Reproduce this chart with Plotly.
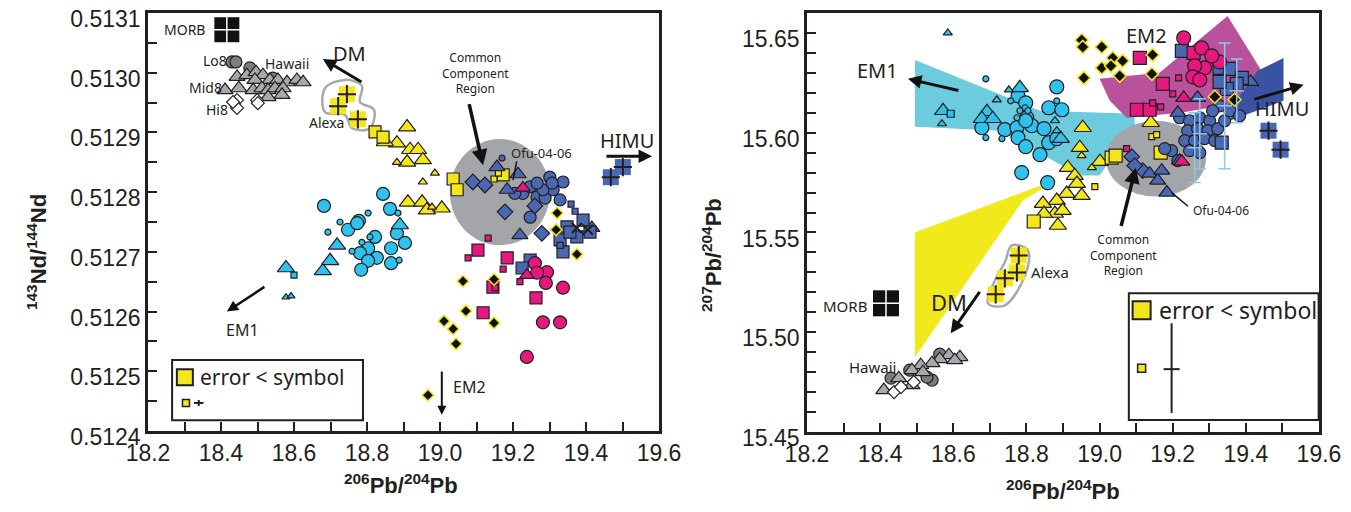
import plotly.graph_objects as go

# ---------------- LEFT PANEL DATA (206Pb/204Pb vs 143Nd/144Nd) ----------------
L_yticks = [0.5124, 0.5125, 0.5126, 0.5127, 0.5128, 0.5129, 0.5130, 0.5131]
L_gray_tri_x = [18.444,18.471,18.496,18.515,18.493,18.534,18.556,18.581,18.608,18.625,18.411,18.449,18.488,18.512,18.529,18.548,18.570,18.567,18.529]
L_gray_tri_y = [0.512993,0.512996,0.513001,0.512996,0.512988,0.512988,0.512988,0.512984,0.512988,0.512984,0.512971,0.512974,0.512971,0.512974,0.512971,0.512974,0.512974,0.512963,0.512959]
L_gray_circ_x = [18.430,18.441,18.479,18.542]
L_gray_circ_y = [0.513018,0.513018,0.513008,0.512991]
L_hi8_x = [18.444,18.444,18.433,18.499,18.501]
L_hi8_y = [0.512954,0.512941,0.512951,0.512954,0.512949]
L_alexa_x = [18.745,18.721,18.775]
L_alexa_y = [0.512964,0.512944,0.512922]
L_alexa_blob_x = [18.685,18.740,18.786,18.781,18.819,18.808,18.759,18.740,18.685,18.685]
L_alexa_blob_y = [0.512974,0.512988,0.512978,0.512951,0.512938,0.512907,0.512907,0.512929,0.512934,0.512974]
L_yel_sq_x = [18.822,18.844,19.036,19.047,19.173]
L_yel_sq_y = [0.512901,0.512892,0.512822,0.512804,0.512829]
L_yel_sqs_x = [19.148,19.160]
L_yel_sqs_y = [0.512822,0.512832]
L_yel_tri_x = [18.910,18.882,18.849,18.918,18.940,18.910,18.953,18.912,18.951,19.005,18.964]
L_yel_tri_y = [0.512909,0.512882,0.512884,0.512871,0.512871,0.512850,0.512854,0.512783,0.512783,0.512773,0.512770]
L_yel_tris_x = [18.882,18.986,18.953,18.978]
L_yel_tris_y = [0.512850,0.512832,0.512817,0.512775]
L_cyan_circ_x = [18.844,18.682,18.863,18.778,18.748,18.822,18.882,18.904,18.803,18.866,18.781,18.827,18.803,18.866,18.784,18.773]
L_cyan_circ_y = [0.512797,0.512777,0.512772,0.512752,0.512737,0.512725,0.512731,0.512715,0.512706,0.512706,0.512698,0.512690,0.512685,0.512681,0.512670,0.512748]
L_cyan_circs_x = [18.885,18.803,18.726,18.693,18.888,18.808,18.759,18.786]
L_cyan_circs_y = [0.512765,0.512765,0.512750,0.512733,0.512686,0.512725,0.512701,0.512716]
L_cyan_tri_x = [18.578,18.679,18.699,18.718,18.890]
L_cyan_tri_y = [0.512673,0.512668,0.512685,0.512711,0.512745]
L_cyan_tris_x = [18.578,18.592]
L_cyan_tris_y = [0.512624,0.512626]
L_cyan_sqs_x = [18.600]
L_cyan_sqs_y = [0.512661]
L_blue_dia_x = [19.090,19.123,19.178,19.279,19.260]
L_blue_dia_y = [0.512817,0.512812,0.512767,0.512731,0.512777]
L_blue_tri_x = [19.214,19.219,19.156,19.416,19.184]
L_blue_tri_y = [0.512830,0.512728,0.512842,0.512740,0.512804]
L_blue_circ_x = [19.301,19.337,19.247,19.227,19.266,19.288,19.310,19.329,19.205,19.247,19.282,19.307,19.266]
L_blue_circ_y = [0.512825,0.512817,0.512758,0.512798,0.512792,0.512790,0.512804,0.512787,0.512798,0.512809,0.512804,0.512815,0.512815]
L_blue_circs_x = [19.170]
L_blue_circs_y = [0.512857]
L_blue_sq_x = [19.392,19.337,19.348,19.375,19.329,19.247,19.225,19.356,19.411]
L_blue_sq_y = [0.512753,0.512700,0.512742,0.512725,0.512720,0.512686,0.512673,0.512733,0.512733]
L_blue_sqs_x = [19.370,19.329,19.359]
L_blue_sqs_y = [0.512768,0.512711,0.512780]
L_blue_x_x = [19.375,19.405]
L_blue_x_y = [0.512740,0.512737]
L_himu_x = [19.501,19.468]
L_himu_y = [0.512842,0.512825]
L_mag_sq_x = [19.104,19.184,19.263,19.118,19.145]
L_mag_sq_y = [0.512703,0.512690,0.512623,0.512598,0.512641]
L_mag_sqs_x = [19.132,19.077,19.173,19.219,19.151]
L_mag_sqs_y = [0.512723,0.512690,0.512671,0.512650,0.512640]
L_mag_circ_x = [19.260,19.293,19.266,19.290,19.337,19.282,19.329,19.238]
L_mag_circ_y = [0.512681,0.512666,0.512665,0.512648,0.512640,0.512582,0.512582,0.512524]
L_mag_tri_x = [19.227,19.238]
L_mag_tri_y = [0.512807,0.512661]
L_blk_x = [19.321,19.318,19.375,19.063,19.148,19.071,19.011,19.036,19.148,19.044,18.967]
L_blk_y = [0.512765,0.512737,0.512696,0.512651,0.512654,0.512601,0.512584,0.512571,0.512581,0.512546,0.512460]
L_morb = (18.416, 0.513072)
L_ccr = (19.164, 0.5128, 0.137, 0.0000888)  # centre x, centre y, radius x, radius y

# ---------------- RIGHT PANEL DATA (206Pb/204Pb vs 207Pb/204Pb) ----------------
R_yticks = [15.45, 15.50, 15.55, 15.60, 15.65]
R_cyan_poly_x = [18.495,18.837,19.096,19.096,19.000,18.946,18.727,18.495]
R_cyan_poly_y = [15.6365,15.611,15.6095,15.6035,15.5785,15.5785,15.601,15.603]
R_yel_poly_x = [18.495,18.998,18.890,18.790,18.495]
R_yel_poly_y = [15.550,15.5845,15.577,15.566,15.4875]
R_mag_poly_x = [19.000,19.164,19.350,19.446,19.410,19.222,19.074,19.028]
R_mag_poly_y = [15.627,15.630,15.6585,15.630,15.616,15.610,15.6075,15.616]
R_blue_poly_x = [19.432,19.503,19.503,19.356,19.383]
R_blue_poly_y = [15.631,15.6375,15.616,15.606,15.6185]
R_ccr = (19.154, 15.587, 0.137, 0.019)

R_cyan_circ_x = [18.883,18.777,18.798,18.861,18.897,18.801,18.678,18.741,18.774,18.815,18.848,18.777,18.861,18.798,18.837,18.787,18.858,18.883,18.798]
R_cyan_circ_y = [15.623,15.6185,15.615,15.6125,15.6115,15.6075,15.6025,15.6015,15.6025,15.6035,15.602,15.5975,15.595,15.593,15.589,15.580,15.575,15.597,15.606]
R_cyan_circs_x = [18.689,18.689,18.733,18.757,18.883,18.796,18.804,18.782,18.774]
R_cyan_circs_y = [15.627,15.5975,15.597,15.616,15.616,15.6125,15.611,15.611,15.6075]
R_cyan_tri_x = [18.572,18.692,18.678,18.708,18.782,18.894]
R_cyan_tri_y = [15.611,15.6105,15.607,15.607,15.6225,15.597]
R_cyan_tris_x = [18.585,18.569,18.719,18.752,18.883,18.878]
R_cyan_tris_y = [15.650,15.6045,15.6165,15.6215,15.601,15.606]
R_cyan_sqs_x = [18.593]
R_cyan_sqs_y = [15.6095]
R_yel_tri_x = [18.954,18.946,18.913,19.001,18.932,18.938,18.951,18.910,18.883,18.845,18.878,18.899,18.848,18.886,19.140]
R_yel_tri_y = [15.6025,15.5925,15.5825,15.5855,15.5785,15.5745,15.5685,15.5695,15.566,15.5645,15.5595,15.561,15.5595,15.5535,15.605]
R_yel_tris_x = [18.951,18.979]
R_yel_tris_y = [15.5885,15.5825]
R_yel_sq_x = [19.033,19.044,18.820,19.167]
R_yel_sq_y = [15.5875,15.5885,15.5555,15.590]
R_yel_sqs_x = [18.987,19.143,19.156]
R_yel_sqs_y = [15.573,15.598,15.599]
R_alexa_x = [18.779,18.774,18.741,18.716]
R_alexa_y = [15.5385,15.530,15.527,15.519]
R_alexa_blob_x = [18.760,18.804,18.796,18.741,18.695,18.714,18.741,18.760]
R_alexa_blob_y = [15.5435,15.541,15.5285,15.5135,15.5145,15.526,15.535,15.5435]
R_gray_circ_x = [18.563,18.481,18.430,18.542,18.528]
R_gray_circ_y = [15.489,15.481,15.477,15.476,15.4775]
R_gray_tri_x = [18.588,18.618,18.604,18.563,18.542,18.511,18.487,18.451,18.410,18.487,18.517]
R_gray_tri_y = [15.4885,15.4875,15.486,15.4865,15.4845,15.4835,15.481,15.477,15.471,15.4735,15.480]
R_hi8_x = [18.438,18.492,18.457]
R_hi8_y = [15.470,15.475,15.4725]
R_morb = (18.416, 15.5145)
R_blk_x = [18.951,18.954,19.006,19.036,19.063,19.006,19.031,19.055,18.957,19.145,19.143,19.315,19.369]
R_blk_y = [15.6465,15.643,15.643,15.6375,15.636,15.6325,15.6335,15.6285,15.6275,15.639,15.6295,15.618,15.6165]
R_mag_sq_x = [19.110,19.173,19.102,19.137,19.257]
R_mag_sq_y = [15.6375,15.6245,15.6115,15.6115,15.640]
R_mag_circ_x = [19.230,19.279,19.328,19.287,19.260,19.255,19.274,19.307]
R_mag_circ_y = [15.6475,15.6425,15.6355,15.6325,15.6335,15.628,15.6265,15.6385]
R_mag_sqs_x = [19.216,19.200,19.167,19.145,19.074]
R_mag_sqs_y = [15.6275,15.6195,15.613,15.615,15.592]
R_mag_tri_x = [19.230,19.225]
R_mag_tri_y = [15.6175,15.5855]
R_blue_sq_x = [19.328,19.356,19.389,19.375,19.348,19.328,19.334,19.225]
R_blue_sq_y = [15.6325,15.632,15.6275,15.6245,15.622,15.6255,15.595,15.641]
R_blue_tri_x = [19.413,19.214,19.268,19.137,19.159,19.184,19.170,19.219]
R_blue_tri_y = [15.6255,15.610,15.6175,15.5795,15.576,15.570,15.581,15.586]
R_blue_dia_x = [19.088,19.118,19.096]
R_blue_dia_y = [15.588,15.581,15.5835]
R_blue_circ_x = [19.219,19.246,19.274,19.301,19.241,19.268,19.296,19.323,19.233,19.260,19.287,19.315,19.246,19.274,19.197,19.214,19.178,19.342,19.356,19.383,19.328,19.309]
R_blue_circ_y = [15.6075,15.606,15.6075,15.606,15.601,15.602,15.601,15.602,15.596,15.596,15.597,15.596,15.591,15.590,15.591,15.586,15.592,15.606,15.611,15.6085,15.6135,15.611]
R_himu_x = [19.462,19.495]
R_himu_y = [15.601,15.5915]
R_err_x = [19.260,19.274,19.342,19.375]
R_err_y = [15.5925,15.5995,15.6135,15.621]
R_err_ey = [0.0175,0.0175,0.0315,0.016]

# ---------------- STYLE ----------------
GRAY = "#a7a9ac"; DGRAY = "#7d7d7d"; YEL = "#f3e71b"; CYAN = "#2fc2ec"
BLUE = "#4a68b2"; MAG = "#e6177f"; CCR = "#a4a5a8"
TICKFONT = dict(family="Liberation Sans, Arial", size=23, color="#231f20")
TXT = "Noto Sans, Liberation Sans"

fig = go.Figure()

def pts(x, y, ax, symbol, color, size, lc="#231f20", lw=1.2):
    fig.add_trace(go.Scatter(x=x, y=y, xaxis=ax[0], yaxis=ax[1], mode="markers", hoverinfo="skip",
                             marker=dict(symbol=symbol, color=color, size=size, line=dict(color=lc, width=lw))))

def crossed(x, y, ax, color, size):
    pts(x, y, ax, "square", color, size, lc=color, lw=0)
    pts(x, y, ax, "cross-thin", "#231f20", size - 3, lc="#231f20", lw=2)

L = ("x", "y"); R = ("x2", "y2")

shapes = []
def poly_path(xs, ys):
    return "M " + " L ".join(f"{a},{b}" for a, b in zip(xs, ys)) + " Z"

# legend boxes (below the glyph traces)
shapes.append(dict(type="rect", xref="x", yref="y", x0=18.266, x1=18.789, y0=0.512418, y1=0.512519,
                   line=dict(color="#231f20", width=2), fillcolor="white", layer="below"))
shapes.append(dict(type="rect", xref="x2", yref="y2", x0=19.080, x1=19.599, y0=15.456, y1=15.5195,
                   line=dict(color="#231f20", width=2), fillcolor="white", layer="below"))

cx, cy, rx, ry = L_ccr
shapes.append(dict(type="circle", xref="x", yref="y", x0=cx - rx, x1=cx + rx, y0=cy - ry, y1=cy + ry,
                   fillcolor=CCR, line=dict(width=0), layer="below"))
for px_, py_, col in [(R_cyan_poly_x, R_cyan_poly_y, "#6ccbdc"), (R_yel_poly_x, R_yel_poly_y, "#f2e91a"),
                      (R_mag_poly_x, R_mag_poly_y, "#b9519c"), (R_blue_poly_x, R_blue_poly_y, "#3a52a3")]:
    shapes.append(dict(type="path", xref="x2", yref="y2", path=poly_path(px_, py_), fillcolor=col,
                       line=dict(width=0), layer="below"))
cx, cy, rx, ry = R_ccr
shapes.append(dict(type="circle", xref="x2", yref="y2", x0=cx - rx, x1=cx + rx, y0=cy - ry, y1=cy + ry,
                   fillcolor=CCR, line=dict(width=0), layer="below"))

# ---- left panel points
fig.add_trace(go.Scatter(x=L_alexa_blob_x, y=L_alexa_blob_y, xaxis="x", yaxis="y", mode="lines",
                         line=dict(color="#a9a9a9", width=2.5, shape="spline"), fill="toself",
                         fillcolor="white", hoverinfo="skip"))
pts(L_gray_circ_x, L_gray_circ_y, L, "circle", DGRAY, 12)
pts(L_gray_tri_x, L_gray_tri_y, L, "triangle-up", GRAY, 14)
pts(L_hi8_x, L_hi8_y, L, "diamond", "white", 10)
crossed(L_alexa_x, L_alexa_y, L, YEL, 16)
pts(L_yel_tri_x, L_yel_tri_y, L, "triangle-up", YEL, 15)
pts(L_yel_tris_x, L_yel_tris_y, L, "triangle-up", YEL, 8)
pts(L_yel_sq_x, L_yel_sq_y, L, "square", YEL, 12)
pts(L_yel_sqs_x, L_yel_sqs_y, L, "square", YEL, 6)
pts(L_cyan_circ_x, L_cyan_circ_y, L, "circle", CYAN, 13)
pts(L_cyan_circs_x, L_cyan_circs_y, L, "circle", CYAN, 6)
pts(L_cyan_tri_x, L_cyan_tri_y, L, "triangle-up", CYAN, 15)
pts(L_cyan_tris_x, L_cyan_tris_y, L, "triangle-up", CYAN, 7)
pts(L_cyan_sqs_x, L_cyan_sqs_y, L, "square", CYAN, 6)
pts(L_blue_circ_x, L_blue_circ_y, L, "circle", BLUE, 12)
pts(L_blue_circs_x, L_blue_circs_y, L, "circle", BLUE, 6)
pts(L_blue_dia_x, L_blue_dia_y, L, "diamond", BLUE, 12)
pts(L_blue_tri_x, L_blue_tri_y, L, "triangle-up", BLUE, 14)
pts(L_blue_sq_x, L_blue_sq_y, L, "square", BLUE, 12)
pts(L_blue_sqs_x, L_blue_sqs_y, L, "square", BLUE, 6)
pts(L_blue_x_x, L_blue_x_y, L, "x-thin", BLUE, 10, lc="#231f20", lw=2)
crossed(L_himu_x, L_himu_y, L, BLUE, 16)
pts(L_mag_sq_x, L_mag_sq_y, L, "square", MAG, 12)
pts(L_mag_sqs_x, L_mag_sqs_y, L, "square", MAG, 6)
pts(L_mag_circ_x, L_mag_circ_y, L, "circle", MAG, 13)
pts(L_mag_tri_x, L_mag_tri_y, L, "triangle-up", MAG, 13)
pts(L_blk_x, L_blk_y, L, "diamond", "#111111", 9, lc=YEL, lw=1.5)
pts([L_morb[0]], [L_morb[1]], L, "square", "#111111", 25, lc="#111111", lw=0)
pts([L_morb[0]], [L_morb[1]], L, "cross-thin", "white", 24, lc="white", lw=1.5)
# left legend glyphs
pts([18.301], [0.512490], L, "square", YEL, 16, lw=2)
pts([18.304], [0.512447], L, "square", YEL, 7, lw=1.5)
fig.add_trace(go.Scatter(x=[18.326, 18.352], y=[0.512447, 0.512447], xaxis="x", yaxis="y", mode="lines",
                         line=dict(color="#231f20", width=2), hoverinfo="skip"))
fig.add_trace(go.Scatter(x=[18.339, 18.339], y=[0.512442, 0.512452], xaxis="x", yaxis="y", mode="lines",
                         line=dict(color="#231f20", width=2), hoverinfo="skip"))

# ---- right panel points
fig.add_trace(go.Scatter(x=R_alexa_blob_x, y=R_alexa_blob_y, xaxis="x2", yaxis="y2", mode="lines",
                         line=dict(color="#a9a9a9", width=2.5, shape="spline"), fill="toself",
                         fillcolor="white", hoverinfo="skip"))
pts(R_gray_circ_x, R_gray_circ_y, R, "circle", DGRAY, 12)
pts(R_gray_tri_x, R_gray_tri_y, R, "triangle-up", GRAY, 14)
pts(R_hi8_x, R_hi8_y, R, "diamond", "white", 10)
crossed(R_alexa_x, R_alexa_y, R, YEL, 16)
pts(R_cyan_circ_x, R_cyan_circ_y, R, "circle", CYAN, 14)
pts(R_cyan_circs_x, R_cyan_circs_y, R, "circle", CYAN, 6)
pts(R_cyan_tri_x, R_cyan_tri_y, R, "triangle-up", CYAN, 15)
pts(R_cyan_tris_x, R_cyan_tris_y, R, "triangle-up", CYAN, 8)
pts(R_cyan_sqs_x, R_cyan_sqs_y, R, "square", CYAN, 7)
pts(R_yel_tri_x, R_yel_tri_y, R, "triangle-up", YEL, 15)
pts(R_yel_tris_x, R_yel_tris_y, R, "triangle-up", YEL, 8)
pts(R_yel_sq_x, R_yel_sq_y, R, "square", YEL, 13)
pts(R_yel_sqs_x, R_yel_sqs_y, R, "square", YEL, 6)
pts(R_blue_circ_x, R_blue_circ_y, R, "circle", BLUE, 12)
pts(R_blue_dia_x, R_blue_dia_y, R, "diamond", BLUE, 12)
pts(R_blue_tri_x, R_blue_tri_y, R, "triangle-up", BLUE, 14)
pts(R_blue_sq_x, R_blue_sq_y, R, "square", BLUE, 13)
crossed(R_himu_x, R_himu_y, R, BLUE, 16)
pts(R_mag_sq_x, R_mag_sq_y, R, "square", MAG, 13)
pts(R_mag_sqs_x, R_mag_sqs_y, R, "square", MAG, 6)
pts(R_mag_circ_x, R_mag_circ_y, R, "circle", MAG, 14)
pts(R_mag_tri_x, R_mag_tri_y, R, "triangle-up", MAG, 14)
pts(R_blk_x, R_blk_y, R, "diamond", "#111111", 10, lc=YEL, lw=1.5)
fig.add_trace(go.Scatter(x=R_err_x, y=R_err_y, xaxis="x2", yaxis="y2", mode="markers", hoverinfo="skip",
                         marker=dict(size=1, color="#8cc8ec"),
                         error_y=dict(type="data", array=R_err_ey, color="#8cc8ec", thickness=1.5, width=6),
                         error_x=dict(type="constant", value=0.02, color="#8cc8ec", thickness=1.5, width=0)))
pts([R_morb[0]], [R_morb[1]], R, "square", "#111111", 26, lc="#111111", lw=0)
pts([R_morb[0]], [R_morb[1]], R, "cross-thin", "white", 25, lc="white", lw=1.5)
# right legend glyphs
pts([19.115], [15.511], R, "square", YEL, 18, lw=2)
pts([19.115], [15.482], R, "square", YEL, 8, lw=1.5)
fig.add_trace(go.Scatter(x=[19.197, 19.197], y=[15.4595, 15.5045], xaxis="x2", yaxis="y2", mode="lines",
                         line=dict(color="#231f20", width=2), hoverinfo="skip"))
fig.add_trace(go.Scatter(x=[19.175, 19.219], y=[15.4815, 15.4815], xaxis="x2", yaxis="y2", mode="lines",
                         line=dict(color="#231f20", width=2), hoverinfo="skip"))

# ---------------- ANNOTATIONS ----------------
ann = []
def text(ax, x, y, s, size=14, xanchor="center", family=TXT):
    ann.append(dict(xref=ax[0], yref=ax[1], x=x, y=y, text=s, showarrow=False, xanchor=xanchor,
                    yanchor="middle", font=dict(family=family, size=size, color="#231f20")))
def arrow(ax, x0, y0, x1, y1, w=3, head=2, hs=0.9):
    ann.append(dict(xref=ax[0], yref=ax[1], axref=ax[0], ayref=ax[1], x=x1, y=y1, ax=x0, ay=y0, text="",
                    showarrow=True, arrowhead=head, arrowwidth=w, arrowsize=hs, arrowcolor="#111111"))

text(L, 18.299, 0.513072, "MORB", 14)
text(L, 18.421, 0.513020, "Lo8", 14, "right")
text(L, 18.581, 0.513016, "Hawaii", 14)
text(L, 18.409, 0.512976, "Mid8", 14, "right")
text(L, 18.425, 0.512938, "Hi8", 14, "right")
text(L, 18.753, 0.513033, "DM", 20)
arrow(L, 18.789, 0.512983, 18.679, 0.513023)
text(L, 18.690, 0.512916, "Alexa", 14)
text(L, 19.096, 0.513000, "Common<br>Component<br>Region", 12)
arrow(L, 19.079, 0.512950, 19.118, 0.512845, w=3.5)
text(L, 19.279, 0.512866, "Ofu-04-06", 13)
arrow(L, 19.211, 0.512854, 19.200, 0.512820, w=1.5, head=0)
text(L, 19.512, 0.512887, "HIMU", 20)
arrow(L, 19.452, 0.512860, 19.581, 0.512860)
text(L, 18.458, 0.512569, "EM1", 16)
arrow(L, 18.523, 0.512643, 18.416, 0.512600, w=2.5)
text(L, 19.082, 0.512474, "EM2", 16)
arrow(L, 19.005, 0.512502, 19.005, 0.512427, w=2)
text(L, 18.338, 0.512490, "error &lt; symbol", 21, "left")

text(R, 18.394, 15.631, "EM1", 20)
arrow(R, 18.618, 15.621, 18.476, 15.627)
text(R, 19.129, 15.6485, "EM2", 20)
text(R, 19.500, 15.612, "HIMU", 20)
arrow(R, 19.419, 15.6165, 19.558, 15.624)
text(R, 18.588, 15.515, "DM", 22)
arrow(R, 18.675, 15.521, 18.593, 15.4995)
text(R, 18.864, 15.530, "Alexa", 15)
text(R, 18.304, 15.513, "MORB", 15)
text(R, 18.380, 15.4825, "Hawaii", 15)
text(R, 19.066, 15.5385, "Common<br>Component<br>Region", 12)
arrow(R, 19.058, 15.5525, 19.099, 15.5825, w=3.5)
text(R, 19.331, 15.561, "Ofu-04-06", 12)
arrow(R, 19.246, 15.5625, 19.197, 15.570, w=1.5, head=0)
text(R, 19.158, 15.511, "error &lt; symbol", 23, "left")

TITLEFONT = dict(family="Liberation Sans, Arial", size=22, color="#231f20")
def title(x, y, s, angle=0):
    ann.append(dict(xref="paper", yref="paper", x=x, y=y, xanchor="center", yanchor="middle",
                    showarrow=False, font=TITLEFONT, textangle=angle, text=s))
title(0.2944, 0.040, "<b><sup>206</sup>Pb/<sup>204</sup>Pb</b>")
title(0.7903, 0.028, "<b><sup>206</sup>Pb/<sup>204</sup>Pb</b>")
title(0.0217, 0.508, "<b><sup>143</sup>Nd/<sup>144</sup>Nd</b>", -90)
title(0.5273, 0.502, "<b><sup>207</sup>Pb/<sup>204</sup>Pb</b>", -90)

def xax(domain, anchor):
    return dict(domain=domain, anchor=anchor, range=[18.2, 19.6], dtick=0.2, tick0=18.2, tickformat=".1f",
                ticks="inside", ticklen=9, tickwidth=2, tickcolor="#231f20", automargin=False,
                ticklabeloverflow="allow",
                minor=dict(dtick=0.1, tick0=18.2, ticks="inside", ticklen=9, tickwidth=2, tickcolor="#231f20"),
                showline=True, linecolor="#231f20", linewidth=2.5, mirror=True, showgrid=False,
                zeroline=False, tickfont=TICKFONT)

# the page body adds an 8px margin, so the figure is 16px smaller than the window in each direction
fig.update_layout(
    width=1335, height=496, margin=dict(l=0, r=0, t=0, b=0), showlegend=False,
    paper_bgcolor="white", plot_bgcolor="white",
    xaxis=xax([0.10487, 0.48764], "y"),
    yaxis=dict(domain=[0.14718, 0.98992], anchor="x", range=[0.51239999, 0.51310001],
               tickvals=L_yticks, ticktext=[f"{v:.4f}" for v in L_yticks],
               ticklabeloverflow="allow", ticklabelshift=6,
               ticks="inside", ticklen=9, tickwidth=2, tickcolor="#231f20", automargin=False,
               minor=dict(dtick=0.00005, tick0=0.5124, ticks="inside", ticklen=9, tickwidth=2, tickcolor="#231f20"),
               showline=True, linecolor="#231f20", linewidth=2.5, mirror=True, showgrid=False,
               zeroline=False, tickfont=TICKFONT),
    xaxis2=xax([0.59850, 0.98202], "y2"),
    yaxis2=dict(domain=[0.14516, 0.98992], anchor="x2", range=[15.45, 15.66],
                tickvals=R_yticks, ticktext=[f"{v:.2f}" for v in R_yticks], automargin=False,
                ticklabeloverflow="allow", ticklabelshift=6,
                ticks="inside", ticklen=9, tickwidth=2, tickcolor="#231f20",
                minor=dict(dtick=0.01, tick0=15.45, ticks="inside", ticklen=9, tickwidth=2, tickcolor="#231f20"),
                showline=True, linecolor="#231f20", linewidth=2.5, mirror=True, showgrid=False,
                zeroline=False, tickfont=TICKFONT),
    shapes=shapes, annotations=ann,
)

fig.write_html("out.html")
